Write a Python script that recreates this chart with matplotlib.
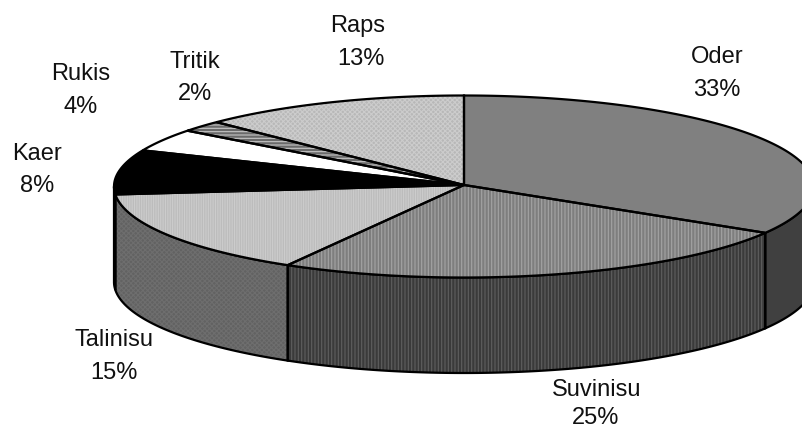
import numpy as np
import matplotlib
matplotlib.use("Agg")
import matplotlib.pyplot as plt
from matplotlib.patches import Polygon

plt.rcParams['font.family'] = ['Liberation Sans', 'DejaVu Sans']
plt.rcParams['hatch.linewidth'] = 0.8

categories = ['Oder', 'Suvinisu', 'Talinisu', 'Kaer', 'Rukis', 'Tritik', 'Raps']
values = [33.5, 24.9, 15.2, 7.9, 4.0, 2.0, 12.5]
pct_labels = ['33%', '25%', '15%', '8%', '4%', '2%', '13%']

top_fc = ['#808080', '#7e7e7e', '#bcbcbc', '#000000', '#ffffff', '#6a6a6a', '#b8b8b8']
top_hc = ['#808080', '#a4a4a4', '#cccccc', '#000000', '#ffffff', '#c4c4c4', '#cccccc']
top_h = [None, '|||||', '|||||||', None, None, '-----', 'xxxxxxx']
side_fc = ['#404040', '#3a3a3a', '#626262', '#000000', '#ffffff', '#333333', '#5a5a5a']
side_hc = ['#404040', '#5e5e5e', '#6e6e6e', '#000000', '#ffffff', '#333333', '#5a5a5a']
side_h = [None, '|||||', 'xxxxxxx', None, None, None, None]

label_xy = [(717, 63, 717, 96), (597, 396, 596, 424), (114, 346, 114, 379),
            (37, 160, 37, 192), (81, 80, 81, 113), (195, 68, 195, 100), (358, 32, 361, 65)]

cx, cy, rx, ry, depth = 464, 186.5, 350, 91, 95.5
apex_y = 185

fig = plt.figure(figsize=(8.03, 4.30), dpi=100)
ax = fig.add_axes([0, 0, 1, 1])
ax.set_xlim(0, 803)
ax.set_ylim(430, 0)
ax.axis('off')


def pt(t):
    return cx + rx * np.sin(t), cy - ry * np.cos(t)


cum = np.concatenate([[0], np.cumsum(values)]) / np.sum(values) * 2 * np.pi
lw = 1.6

# side walls
for i in range(len(values)):
    a, b = max(cum[i], np.pi / 2), min(cum[i + 1], 3 * np.pi / 2)
    if b <= a:
        continue
    t = np.linspace(a, b, 120)
    x, y = pt(t)
    xs = np.r_[x, x[::-1]]
    ys = np.r_[y, (y + depth)[::-1]]
    ax.add_patch(Polygon(np.c_[xs, ys], closed=True, facecolor=side_fc[i],
                         edgecolor=side_hc[i], hatch=side_h[i], linewidth=0, zorder=2))
    ax.add_patch(Polygon(np.c_[xs, ys], closed=True, fill=False,
                         edgecolor='black', linewidth=lw, zorder=3))

# top slices
for i in range(len(values)):
    t = np.linspace(cum[i], cum[i + 1], 150)
    x, y = pt(t)
    xs = np.r_[cx, x]
    ys = np.r_[apex_y, y]
    ax.add_patch(Polygon(np.c_[xs, ys], closed=True, facecolor=top_fc[i],
                         edgecolor=top_hc[i], hatch=top_h[i], linewidth=0, zorder=4))
    ax.add_patch(Polygon(np.c_[xs, ys], closed=True, fill=False,
                         edgecolor='black', linewidth=lw, zorder=5))

for name, pct, (x1, y1, x2, y2) in zip(categories, pct_labels, label_xy):
    ax.text(x1, y1, name, ha='center', va='baseline', fontsize=17, color='#111111')
    ax.text(x2, y2, pct, ha='center', va='baseline', fontsize=17, color='#111111')

fig.savefig('out.png', dpi=100, facecolor='white')
